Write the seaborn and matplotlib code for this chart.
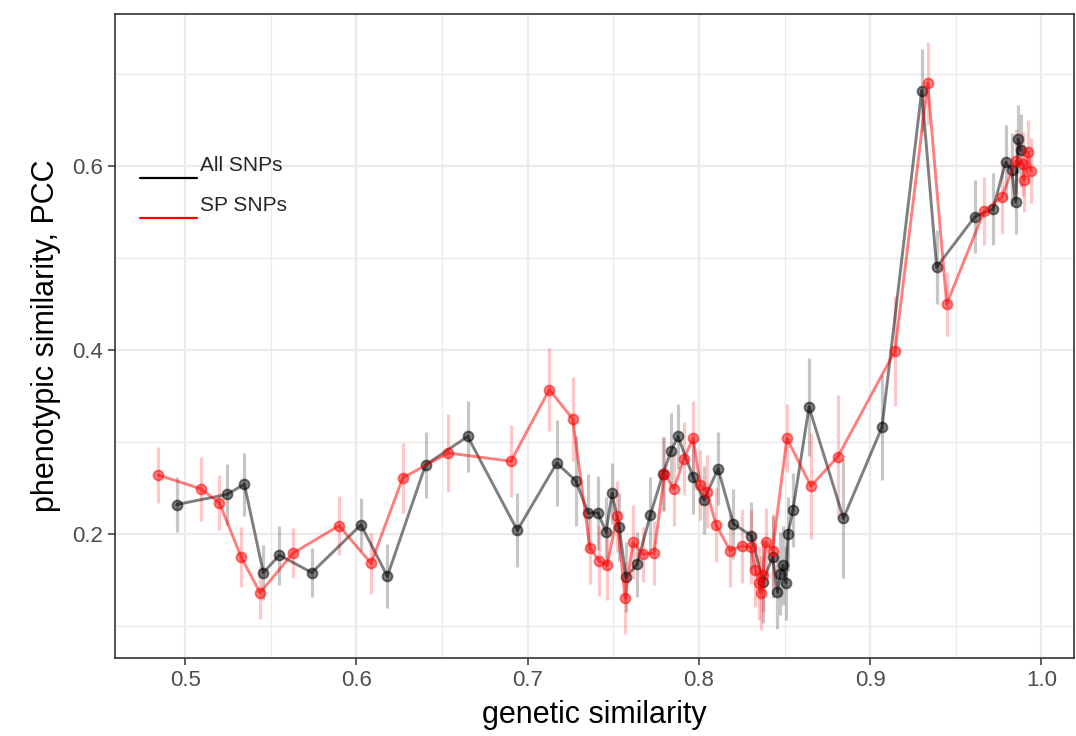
import seaborn as sns
import matplotlib.pyplot as plt
import pandas as pd
import numpy as np

# All SNPs (black)
all_x = [0.4952, 0.5245, 0.5346, 0.5457, 0.5551, 0.5740, 0.6027, 0.6181, 0.6404, 0.6650,
         0.6940, 0.7170, 0.7281, 0.7353, 0.7411, 0.7458, 0.7493, 0.7534, 0.7574, 0.7639,
         0.7717, 0.7790, 0.7837, 0.7878, 0.7966, 0.8030, 0.8112, 0.8202, 0.8307, 0.8374,
         0.8430, 0.8459, 0.8476, 0.8491, 0.8508, 0.8520, 0.8549, 0.8643, 0.8844, 0.9069,
         0.9301, 0.9388, 0.9612, 0.9717, 0.9791, 0.9826, 0.9849, 0.9865, 0.9879]
all_y = [0.232, 0.243, 0.254, 0.158, 0.177, 0.158, 0.210, 0.154, 0.275, 0.306,
         0.204, 0.277, 0.258, 0.223, 0.223, 0.202, 0.244, 0.208, 0.153, 0.167,
         0.221, 0.265, 0.290, 0.306, 0.262, 0.237, 0.271, 0.211, 0.198, 0.148,
         0.175, 0.137, 0.157, 0.166, 0.147, 0.200, 0.226, 0.338, 0.217, 0.316,
         0.682, 0.490, 0.545, 0.553, 0.604, 0.596, 0.561, 0.629, 0.617]
all_err = [0.030, 0.033, 0.034, 0.030, 0.032, 0.027, 0.029, 0.035, 0.036, 0.039,
           0.040, 0.047, 0.049, 0.042, 0.040, 0.038, 0.033, 0.037, 0.038, 0.035,
           0.041, 0.040, 0.042, 0.035, 0.040, 0.037, 0.040, 0.038, 0.037, 0.045,
           0.045, 0.040, 0.045, 0.043, 0.040, 0.040, 0.040, 0.053, 0.065, 0.057,
           0.045, 0.040, 0.040, 0.039, 0.041, 0.040, 0.035, 0.037, 0.040]

# SP SNPs (red)
sp_x = [0.4844, 0.5093, 0.5200, 0.5327, 0.5438, 0.5629, 0.5899, 0.6086, 0.6271, 0.6537,
        0.6903, 0.7127, 0.7263, 0.7364, 0.7417, 0.7464, 0.7522, 0.7569, 0.7615, 0.7674,
        0.7738, 0.7799, 0.7855, 0.7913, 0.7966, 0.8009, 0.8047, 0.8100, 0.8182, 0.8252,
        0.8304, 0.8330, 0.8351, 0.8360, 0.8374, 0.8392, 0.8430, 0.8514, 0.8654, 0.8812,
        0.9145, 0.9336, 0.9447, 0.9666, 0.9768, 0.9849, 0.9894, 0.9900, 0.9923, 0.9939]
sp_y = [0.264, 0.249, 0.234, 0.175, 0.136, 0.179, 0.209, 0.168, 0.261, 0.288,
        0.279, 0.357, 0.325, 0.185, 0.171, 0.166, 0.219, 0.130, 0.191, 0.178,
        0.179, 0.265, 0.249, 0.282, 0.304, 0.253, 0.246, 0.210, 0.182, 0.187,
        0.186, 0.161, 0.147, 0.136, 0.155, 0.191, 0.182, 0.304, 0.252, 0.284,
        0.399, 0.690, 0.450, 0.551, 0.566, 0.605, 0.602, 0.585, 0.615, 0.595]
sp_err = [0.030, 0.035, 0.030, 0.033, 0.028, 0.027, 0.032, 0.033, 0.038, 0.042,
          0.039, 0.045, 0.046, 0.039, 0.038, 0.038, 0.039, 0.039, 0.040, 0.030,
          0.035, 0.040, 0.040, 0.040, 0.040, 0.038, 0.040, 0.040, 0.040, 0.040,
          0.040, 0.040, 0.040, 0.040, 0.040, 0.037, 0.040, 0.037, 0.058, 0.067,
          0.060, 0.045, 0.035, 0.037, 0.040, 0.035, 0.035, 0.035, 0.035, 0.035]

groups = ["All SNPs", "SP SNPs"]
colors = {"All SNPs": "#000000", "SP SNPs": "#FF0000"}

data = pd.concat([
    pd.DataFrame({"gs": all_x, "pcc": all_y, "err": all_err, "set": "All SNPs"}),
    pd.DataFrame({"gs": sp_x, "pcc": sp_y, "err": sp_err, "set": "SP SNPs"}),
], ignore_index=True)

sns.set_style("white")
plt.rcParams["font.family"] = ["Liberation Sans", "DejaVu Sans"]

fig = plt.figure(figsize=(10.76, 7.36), dpi=100)
ax = fig.add_axes([0.1069, 0.106, 0.8912, 0.875])

# error bars
for g in groups:
    d = data[data["set"] == g]
    ax.errorbar(d["gs"], d["pcc"], yerr=d["err"], fmt="none",
                ecolor=colors[g], alpha=0.22, elinewidth=2.3, capsize=0, zorder=2)

# lines + points
for g in groups:
    d = data[data["set"] == g]
    sns.lineplot(data=d, x="gs", y="pcc", color=colors[g],
                 marker="o", markersize=7.2, markeredgewidth=1.3,
                 markeredgecolor=colors[g], linewidth=2.1,
                 alpha=0.5, ax=ax, zorder=3)

ax.set_xlim(0.4591, 1.019)
ax.set_ylim(0.0652, 0.7652)
ax.set_xticks([0.5, 0.6, 0.7, 0.8, 0.9, 1.0])
ax.set_xticklabels(["0.5", "0.6", "0.7", "0.8", "0.9", "1.0"])
ax.set_xticks([0.55, 0.65, 0.75, 0.85, 0.95], minor=True)
ax.set_yticks([0.2, 0.4, 0.6])
ax.set_yticklabels(["0.2", "0.4", "0.6"])
ax.set_yticks([0.1, 0.3, 0.5, 0.7], minor=True)

ax.grid(which="major", color="#EBEBEB", linewidth=1.6, zorder=0)
ax.grid(which="minor", color="#EBEBEB", linewidth=1.0, zorder=0)
ax.set_axisbelow(True)
for s in ax.spines.values():
    s.set_color("#333333")
    s.set_linewidth(1.2)

ax.tick_params(which="major", direction="out", length=5, width=1.1,
               color="#333333", labelcolor="#4D4D4D", labelsize=16, pad=4,
               bottom=True, left=True)
ax.tick_params(which="minor", length=0)

ax.set_xlabel("genetic similarity", fontsize=22, color="black", labelpad=6)
ax.set_ylabel("phenotypic similarity, PCC", fontsize=22, color="black", labelpad=8)

# legend (ggplot style: key line below the label)
for g, ly, ty in [("All SNPs", 0.745, 0.764), ("SP SNPs", 0.683, 0.703)]:
    ax.plot([0.026, 0.0855], [ly, ly], color=colors[g], linewidth=1.6,
            transform=ax.transAxes, zorder=5)
    ax.text(0.0886, ty, g, fontsize=15, transform=ax.transAxes,
            va="center", ha="left", zorder=5)

plt.savefig("out.png", dpi=100)
